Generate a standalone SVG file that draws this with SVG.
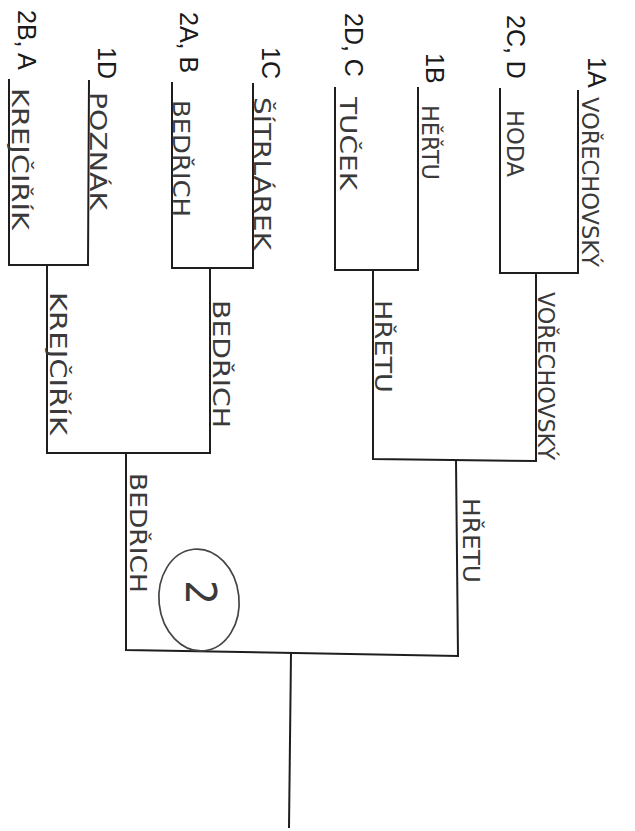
<svg xmlns="http://www.w3.org/2000/svg" width="635" height="831" viewBox="0 0 635 831">
<style>
.ln{fill:none;stroke:#1e1e1e;stroke-width:2;stroke-linejoin:miter}
.pr{font-family:"Liberation Sans",Arial,sans-serif;font-size:25px;fill:#1a1a1a}
.hw{font-family:"DejaVu Sans","Liberation Sans",sans-serif;font-size:23px;fill:#3a3a3a}
.ring{fill:none;stroke:#444444;stroke-width:1.7}
</style>
<rect width="635" height="831" fill="#ffffff"/>
<g id="connectors">
<path class="ln" d="M9,79 V265 H88 L89,80"/>
<path class="ln" d="M172,82 V268 H253 V83"/>
<path class="ln" d="M335,87 V270 H418 V87"/>
<path class="ln" d="M500,88 V273 H578 V90"/>
<path class="ln" d="M47,265 V453 H210 V268"/>
<path class="ln" d="M373,270 V459 L536,461 V273"/>
<path class="ln" d="M126,453 V650 L458,656 L456,460"/>
<path class="ln" d="M291,653 L289,828"/>
</g>
<g id="slot-2B-A">
<text class="pr" transform="translate(18,10) rotate(90)">2B, A</text>
<text class="hw" transform="translate(12,88) rotate(90)" textLength="142" lengthAdjust="spacingAndGlyphs">KREJČIŘÍK</text>
</g>
<g id="slot-1D">
<text class="pr" transform="translate(98,47) rotate(90)">1D</text>
<text class="hw" transform="translate(90,92) rotate(90)" textLength="118" lengthAdjust="spacingAndGlyphs">POZNÁK</text>
</g>
<g id="slot-2A-B">
<text class="pr" transform="translate(180,12) rotate(90)">2A, B</text>
<text class="hw" transform="translate(173,100) rotate(90)" textLength="117" lengthAdjust="spacingAndGlyphs">BEDŘICH</text>
</g>
<g id="slot-1C">
<text class="pr" transform="translate(262,47) rotate(90)">1C</text>
<text class="hw" transform="translate(254,97) rotate(90)" textLength="153" lengthAdjust="spacingAndGlyphs">ŠÍTRLÁREK</text>
</g>
<g id="slot-2D-C">
<text class="pr" transform="translate(345,13) rotate(90)">2D, C</text>
<text class="hw" transform="translate(340,97) rotate(90)" textLength="93" lengthAdjust="spacingAndGlyphs">TUČEK</text>
</g>
<g id="slot-1B">
<text class="pr" transform="translate(426,53) rotate(90)">1B</text>
<text class="hw" transform="translate(422,105) rotate(90)" textLength="75" lengthAdjust="spacingAndGlyphs">HĚŘTU</text>
</g>
<g id="slot-2C-D">
<text class="pr" transform="translate(507,15) rotate(90)">2C, D</text>
<text class="hw" transform="translate(507,110) rotate(90)" textLength="67" lengthAdjust="spacingAndGlyphs">HODA</text>
</g>
<g id="slot-1A">
<text class="pr" transform="translate(588,57) rotate(90)">1A</text>
<text class="hw" transform="translate(582,97) rotate(90)" textLength="170" lengthAdjust="spacingAndGlyphs">VOŘECHOVSKÝ</text>
</g>
<g id="semi-1">
<text class="hw" transform="translate(50,292) rotate(90)" textLength="143" lengthAdjust="spacingAndGlyphs">KREJČIŘÍK</text>
</g>
<g id="semi-2">
<text class="hw" transform="translate(213,300) rotate(90)" textLength="128" lengthAdjust="spacingAndGlyphs">BEDŘICH</text>
</g>
<g id="semi-3">
<text class="hw" transform="translate(375,300) rotate(90)" textLength="93" lengthAdjust="spacingAndGlyphs">HŘETU</text>
</g>
<g id="semi-4">
<text class="hw" transform="translate(538,292) rotate(90)" textLength="168" lengthAdjust="spacingAndGlyphs">VOŘECHOVSKÝ</text>
</g>
<g id="final-1">
<text class="hw" transform="translate(130,473) rotate(90)" textLength="120" lengthAdjust="spacingAndGlyphs">BEDŘICH</text>
</g>
<g id="final-2">
<text class="hw" transform="translate(463,498) rotate(90)" textLength="85" lengthAdjust="spacingAndGlyphs">HŘETU</text>
</g>
<g id="score">
<ellipse class="ring" cx="199" cy="600" rx="40" ry="51" transform="rotate(-6 199 600)"/>
<text transform="translate(186,580) rotate(90)" style="font-family:'DejaVu Sans',sans-serif;font-size:42px;fill:#3a3a3a" textLength="25" lengthAdjust="spacingAndGlyphs">2</text>
</g>
</svg>
